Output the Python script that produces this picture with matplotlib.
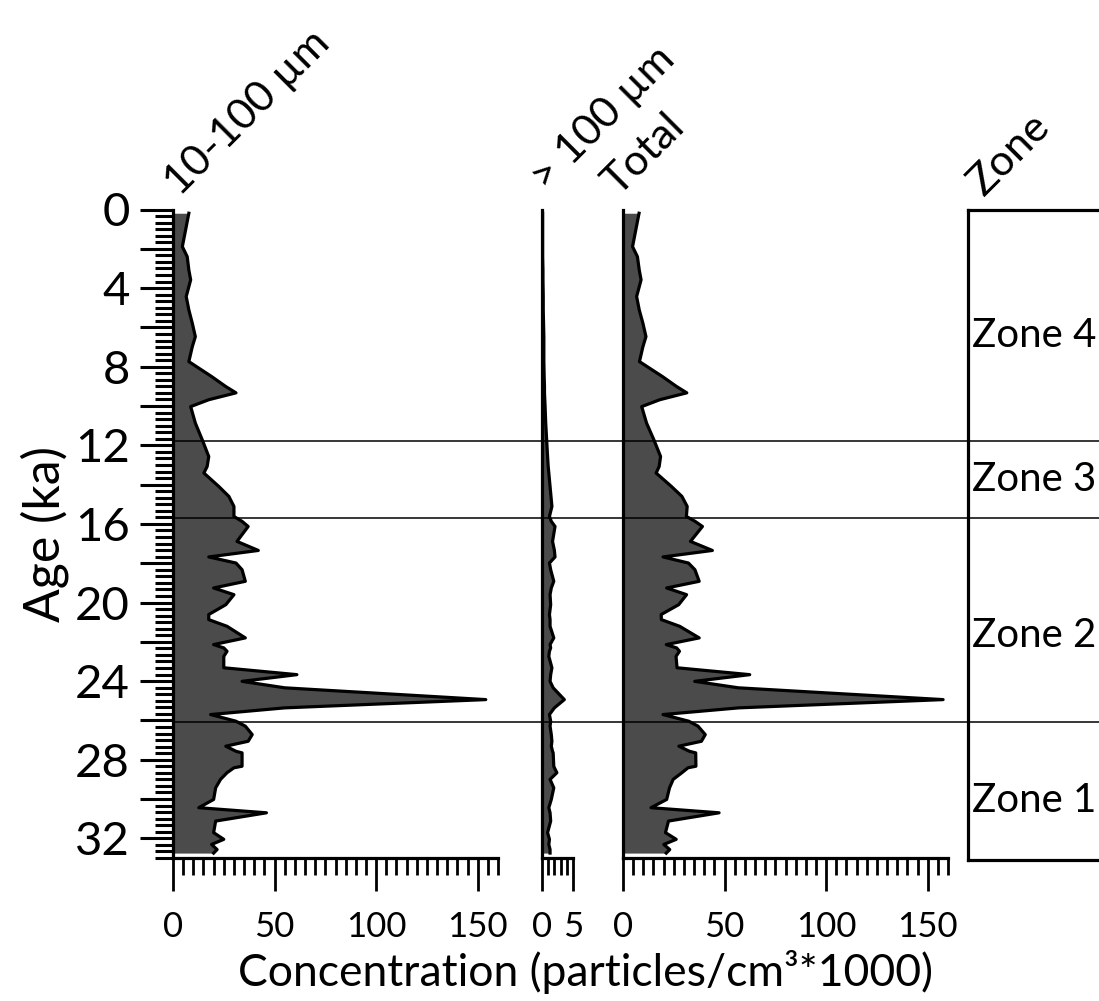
import matplotlib
matplotlib.use('Agg')
import matplotlib.pyplot as plt
import matplotlib.transforms as mtransforms
from matplotlib.ticker import MultipleLocator, AutoMinorLocator, FuncFormatter
from matplotlib.lines import Line2D

plt.rcParams['font.family'] = ['Lato', 'DejaVu Sans']

# age (ka) of each sample
age = [0.19, 1.89, 2.40, 3.08, 3.58, 4.43, 5.11, 5.79, 6.47, 6.98, 7.74, 8.50, 9.01, 9.33,
       9.68, 10.03, 10.87, 11.72, 12.57, 13.08, 13.41, 14.09, 14.60, 15.11, 15.62, 15.87,
       16.13, 16.89, 17.35, 17.68, 17.99, 18.33, 18.92, 19.26, 19.60, 20.11, 20.61, 20.87,
       21.21, 21.80, 22.14, 22.31, 22.48, 22.74, 23.32, 23.67, 24.01, 24.34, 24.94, 25.36,
       25.70, 26.04, 26.29, 26.72, 27.06, 27.31, 27.57, 27.65, 28.33, 28.41, 28.66, 29.00,
       29.43, 30.02, 30.44, 30.70, 31.12, 31.71, 32.05, 32.31, 32.57, 32.75]

# 10-100 um
fine = [7.8, 4.6, 7.0, 7.8, 8.7, 6.5, 7.8, 9.5, 11.0, 9.5, 7.8, 19.0, 26.0, 31.0,
        17.6, 8.7, 11.0, 14.4, 17.6, 16.8, 15.2, 22.5, 27.5, 30.0, 30.0, 34.0,
        37.0, 31.5, 42.0, 17.6, 31.0, 34.0, 35.6, 20.0, 30.0, 26.0, 17.6, 17.6,
        26.6, 35.6, 20.0, 25.0, 26.6, 25.0, 25.0, 61.0, 34.0, 55.0, 154.0, 55.0,
        18.5, 31.0, 35.6, 39.0, 37.0, 26.0, 31.0, 34.0, 34.0, 30.0, 26.6, 23.4,
        21.0, 20.0, 12.7, 46.0, 21.0, 20.0, 25.0, 19.0, 21.7, 20.0]

# > 100 um
coarse = [0.1, 0.1, 0.1, 0.15, 0.15, 0.2, 0.2, 0.25, 0.3, 0.3, 0.3, 0.35, 0.4, 0.4,
          0.45, 0.5, 0.6, 0.75, 0.9, 1.0, 1.1, 1.3, 1.45, 1.6, 1.2, 1.5,
          2.1, 1.7, 2.0, 2.1, 1.2, 1.4, 1.9, 1.5, 1.3, 1.4, 1.2, 1.3,
          1.3, 1.9, 1.3, 1.4, 1.2, 1.1, 1.6, 1.4, 1.3, 1.8, 3.6, 2.0,
          1.2, 1.4, 1.3, 1.5, 1.6, 1.5, 1.7, 1.8, 1.9, 2.0, 2.4, 1.3,
          1.9, 1.5, 1.1, 1.3, 1.4, 0.9, 1.2, 1.1, 1.3, 1.3]

# total
total = [7.9, 4.7, 7.1, 8.0, 8.9, 6.7, 8.0, 9.8, 11.3, 9.8, 8.1, 19.4, 26.4, 31.4,
         18.1, 9.2, 11.6, 15.2, 18.5, 17.8, 16.3, 23.8, 29.0, 31.6, 31.2, 35.5,
         39.1, 33.2, 44.0, 19.7, 32.2, 35.4, 37.5, 21.5, 31.3, 27.4, 18.8, 18.9,
         27.9, 37.5, 21.3, 26.4, 27.8, 26.1, 26.6, 62.4, 35.3, 56.8, 157.6, 57.0,
         19.7, 32.4, 36.9, 40.5, 38.6, 27.5, 32.7, 35.8, 35.9, 32.0, 29.0, 24.7,
         22.9, 21.5, 13.8, 47.3, 22.4, 20.9, 26.2, 20.1, 23.0, 21.3]

zone_bounds = [11.8, 15.7, 26.1]
zone_names = ['Zone 4', 'Zone 3', 'Zone 2', 'Zone 1']
zone_label_age = [6.4, 13.7, 21.6, 30.0]
panel_titles = ['10-100 µm', '> 100 µm', 'Total', 'Zone']

W, H = 1099, 1001
fig = plt.figure(figsize=(W / 100, H / 100), dpi=100)
Y0, Y1 = 209.5, 858


def px_axes(x0, x1, y0=Y0, y1=Y1):
    return fig.add_axes([x0 / W, 1 - y1 / H, (x1 - x0) / W, (y1 - y0) / H])


def panel(ax, vals, xmax, major, minor):
    ax.fill_betweenx(age, 0, vals, color='#4b4b4b', lw=0, zorder=2)
    ax.plot(vals, age, color='black', lw=2.3, zorder=3)
    ax.set_xlim(0, xmax)
    ax.set_ylim(33, 0)
    ax.set_facecolor('none')
    for s in ['top', 'right']:
        ax.spines[s].set_visible(False)
    for s in ['left', 'bottom']:
        ax.spines[s].set_linewidth(2.3)
    ax.xaxis.set_major_locator(MultipleLocator(major))
    ax.xaxis.set_minor_locator(MultipleLocator(minor))
    ax.tick_params(axis='x', which='major', direction='out', length=24, width=2,
                   labelsize=25, pad=14)
    ax.tick_params(axis='x', which='minor', direction='out', length=12, width=2)
    ax.tick_params(axis='y', which='both', left=False, labelleft=False)


ax1 = px_axes(173, 498)
ax2 = px_axes(542, 573)
ax3 = px_axes(623, 948)
panel(ax1, fine, 160, 50, 5)
panel(ax2, coarse, 5, 5, 1)
panel(ax3, total, 160, 50, 5)

ax1.yaxis.set_major_locator(MultipleLocator(2))
ax1.yaxis.set_minor_locator(AutoMinorLocator(6))
ax1.yaxis.set_major_formatter(FuncFormatter(lambda v, p: f'{v:.0f}' if round(v) % 4 == 0 else ''))
ax1.tick_params(axis='y', which='major', left=True, labelleft=True, direction='out',
                length=24, width=2.2, labelsize=34, pad=7)
ax1.tick_params(axis='y', which='minor', left=True, direction='out', length=13, width=2.2)

# zone box
ax4 = px_axes(968, 1115, Y0, 860)
ax4.set_ylim(33, 0)
ax4.set_xlim(0, 1)
ax4.set_xticks([])
ax4.set_yticks([])
ax4.spines['right'].set_visible(False)
for s in ['top', 'left', 'bottom']:
    ax4.spines[s].set_linewidth(2.3)
for name, a in zip(zone_names, zone_label_age):
    ax4.text(0.03, a, name, fontsize=29, va='center', ha='left')

# zone boundaries across all panels
trans = mtransforms.blended_transform_factory(fig.transFigure, ax1.transData)
for b in zone_bounds:
    fig.add_artist(Line2D([173 / W, 1.0], [b, b], transform=trans, color='black', lw=1.1, zorder=5))

# rotated panel titles
title_pos = [(180, 197), (546, 192), (618, 197), (984, 197)]
for t, (x, y) in zip(panel_titles, title_pos):
    fig.text(x / W, 1 - y / H, t, rotation=45, rotation_mode='anchor',
             ha='left', va='baseline', fontsize=31)

fig.text(45 / W, 1 - 534 / H, 'Age (ka)', rotation=90, ha='center', va='center', fontsize=36)
fig.text(585 / W, 1 - 972 / H, 'Concentration (particles/cm³*1000)', ha='center', va='center',
         fontsize=32)

fig.savefig('out.png', dpi=100)
